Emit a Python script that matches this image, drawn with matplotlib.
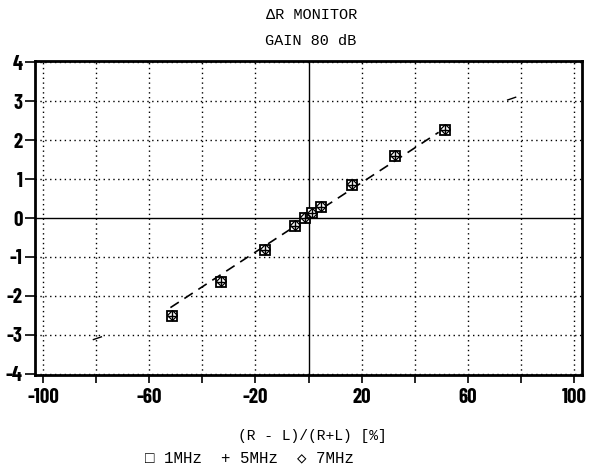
import numpy as np
import matplotlib.pyplot as plt

# measured points (same for all three frequencies)
x_pct = [-51.4, -32.9, -16.2, -5.0, -1.3, 1.3, 4.6, 16.5, 32.6, 51.3]
y_1mhz = [-2.51, -1.63, -0.82, -0.20, 0.00, 0.12, 0.29, 0.85, 1.59, 2.27]
y_5mhz = [-2.51, -1.63, -0.82, -0.20, 0.00, 0.12, 0.29, 0.85, 1.59, 2.27]
y_7mhz = [-2.49, -1.61, -0.80, -0.18, 0.02, 0.14, 0.31, 0.87, 1.61, 2.29]

# fitted line
fit_x = [-52, 49]
fit_y = [-2.3, 2.2]

# stray pen marks on the original plot
stray1_x = [-81, -78]
stray1_y = [-3.12, -3.05]
stray2_x = [75, 78]
stray2_y = [3.03, 3.1]

x_ticks = np.arange(-100, 101, 20)
x_labels = ['-100', '', '-60', '', '-20', '', '20', '', '60', '', '100']
y_ticks = np.arange(-4, 5, 1)

tick_font = ['Barlow Condensed', 'Roboto', 'DejaVu Sans']
text_font = ['Liberation Mono', 'DejaVu Sans Mono']

fig = plt.figure(figsize=(5.91, 4.65), dpi=100)
ax = fig.add_axes([0.0592, 0.1935, 0.9256, 0.6753])

ax.set_xlim(-103, 103)
ax.set_ylim(-4.03, 4.03)

# dotted grid
for gx in x_ticks:
    if gx != 0:
        ax.axvline(gx, color='black', lw=1.0, ls=(0, (1, 2.5)))
for gy in y_ticks:
    if gy != 0:
        ax.axhline(gy, color='black', lw=1.0, ls=(0, (1, 2.5)))
ax.axvline(0, color='black', lw=1.0)
ax.axhline(0, color='black', lw=1.0)

ax.plot(fit_x, fit_y, color='black', lw=1.2, ls=(0, (6, 4)))
ax.plot(stray1_x, stray1_y, color='black', lw=1.0)
ax.plot(stray2_x, stray2_y, color='black', lw=1.0)

ax.plot(x_pct, y_1mhz, ls='none', marker='s', ms=7, mfc='white', mec='black', mew=1.3)
ax.plot(x_pct, y_5mhz, ls='none', marker='+', ms=7, color='black', mew=1.0)
ax.plot(x_pct, y_7mhz, ls='none', marker='D', ms=5, mfc='none', mec='black', mew=0.9)

for s in ax.spines.values():
    s.set_linewidth(2.0)

ax.set_xticks(x_ticks)
ax.set_xticklabels(x_labels, fontsize=15, fontweight='bold', family=tick_font)
ax.set_yticks(y_ticks)
ax.set_yticklabels([str(v) for v in y_ticks], fontsize=15, fontweight='bold', family=tick_font)
ax.tick_params(axis='x', direction='out', length=6, width=1.2, pad=3)
ax.tick_params(axis='y', direction='out', length=7, width=1.2, pad=2)

fig.text(0.527, 0.967, '\u0394R MONITOR', ha='center', va='center', fontsize=11, family=text_font)
fig.text(0.525, 0.911, 'GAIN 80 dB', ha='center', va='center', fontsize=11, family=text_font)
fig.text(0.529, 0.062, '(R - L)/(R+L) [%]', ha='center', va='center', fontsize=10.5, family=text_font)
fig.text(0.423, 0.015, '\u25a1 1MHz  + 5MHz  \u25c7 7MHz', ha='center', va='center',
         fontsize=11.3, family=text_font)

fig.savefig('out.png', dpi=100)
